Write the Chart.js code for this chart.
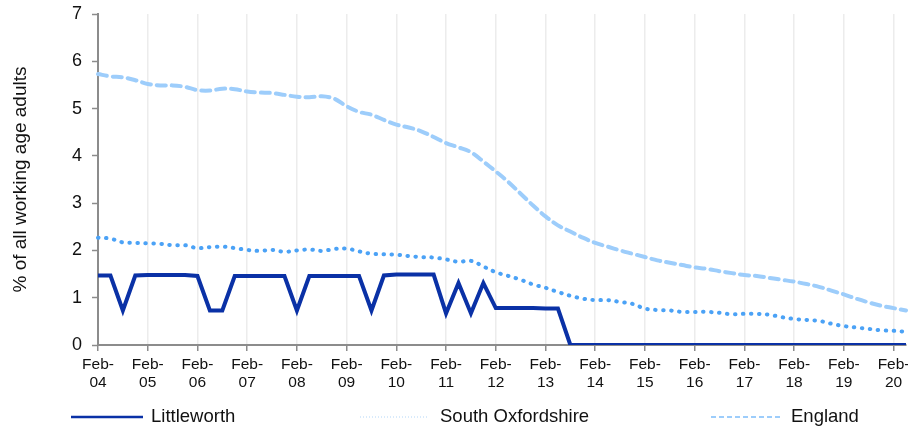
<!DOCTYPE html>
<html>
<head>
<meta charset="utf-8">
<script src="https://cdn.jsdelivr.net/npm/chart.js@4.4.1/dist/chart.umd.min.js"></script>
<style>
  html, body { margin: 0; padding: 0; background: #ffffff; }
  #wrap { position: relative; width: 908px; height: 430px; }
</style>
</head>
<body>
<div id="wrap"><canvas id="c" width="908" height="430"></canvas></div>
<script>
const categories = [
  "Feb-04","May-04","Aug-04","Nov-04","Feb-05","May-05","Aug-05","Nov-05",
  "Feb-06","May-06","Aug-06","Nov-06","Feb-07","May-07","Aug-07","Nov-07",
  "Feb-08","May-08","Aug-08","Nov-08","Feb-09","May-09","Aug-09","Nov-09",
  "Feb-10","May-10","Aug-10","Nov-10","Feb-11","May-11","Aug-11","Nov-11",
  "Feb-12","May-12","Aug-12","Nov-12","Feb-13","May-13","Aug-13","Nov-13",
  "Feb-14","May-14","Aug-14","Nov-14","Feb-15","May-15","Aug-15","Nov-15",
  "Feb-16","May-16","Aug-16","Nov-16","Feb-17","May-17","Aug-17","Nov-17",
  "Feb-18","May-18","Aug-18","Nov-18","Feb-19","May-19","Aug-19","Nov-19",
  "Feb-20","May-20"
];

const seriesNames = ["Littleworth", "South Oxfordshire", "England"];

const littleworth = [
  1.47,1.47,0.73,1.47,1.48,1.48,1.48,1.48,1.46,0.73,
  0.73,1.46,1.46,1.46,1.46,1.46,0.73,1.46,1.46,1.46,
  1.46,1.46,0.73,1.47,1.49,1.49,1.49,1.49,0.67,1.31,
  0.67,1.31,0.78,0.78,0.78,0.78,0.77,0.77,0,0,
  0,0,0,0,0,0,0,0,0,0,
  0,0,0,0,0,0,0,0,0,0,
  0,0,0,0,0,0
];

const southOxfordshire = [
  2.27,2.25,2.17,2.16,2.15,2.14,2.11,2.11,2.05,2.07,
  2.08,2.05,2.01,1.99,2.01,1.97,2.00,2.02,1.99,2.03,
  2.04,1.98,1.93,1.92,1.91,1.88,1.86,1.85,1.81,1.76,
  1.78,1.66,1.54,1.46,1.38,1.28,1.21,1.12,1.04,0.98,
  0.95,0.95,0.91,0.87,0.77,0.74,0.73,0.70,0.70,0.70,
  0.68,0.65,0.66,0.66,0.64,0.59,0.55,0.53,0.51,0.45,
  0.40,0.37,0.34,0.31,0.30,0.28
];

const england = [
  5.73,5.68,5.66,5.60,5.52,5.49,5.49,5.46,5.39,5.38,
  5.42,5.41,5.36,5.34,5.33,5.29,5.25,5.24,5.26,5.21,
  5.05,4.93,4.87,4.76,4.66,4.60,4.52,4.40,4.27,4.18,
  4.08,3.88,3.67,3.45,3.20,2.95,2.72,2.53,2.40,2.27,
  2.16,2.08,2.00,1.93,1.86,1.79,1.74,1.69,1.64,1.61,
  1.56,1.52,1.48,1.46,1.42,1.38,1.34,1.29,1.23,1.15,
  1.07,0.98,0.90,0.83,0.78,0.73
];

const yTicks = [0, 1, 2, 3, 4, 5, 6, 7];
const yTitle = "% of all working age adults";

const FONT = "'Liberation Sans', Arial, sans-serif";
const COL_LW = "#0a31a6";
const COL_SO = "#4ba2f6";
const COL_EN = "#9dcdfb";

const legendPlugin = {
  id: "customLegend",
  afterDraw(chart) {
    const ctx = chart.ctx;
    const y = 417;
    const items = [
      { i: 0, x1: 71, x2: 143, tx: 151, color: COL_LW, width: 2.5, dash: [] },
      { i: 1, x1: 360, x2: 427, tx: 440, color: "#b3d6f7", width: 1, dash: [1, 2] },
      { i: 2, x1: 711, x2: 780, tx: 791, color: COL_EN, width: 2, dash: [5, 3] }
    ];
    ctx.save();
    items.forEach(it => {
      ctx.beginPath();
      ctx.setLineDash(it.dash);
      ctx.lineWidth = it.width;
      ctx.strokeStyle = it.color;
      ctx.lineCap = "butt";
      ctx.moveTo(it.x1, y);
      ctx.lineTo(it.x2, y);
      ctx.stroke();
      ctx.setLineDash([]);
      ctx.fillStyle = "#111";
      ctx.font = "18.5px " + FONT;
      ctx.textBaseline = "middle";
      ctx.textAlign = "left";
      ctx.fillText(chart.data.datasets[it.i].label, it.tx, y);
    });
    ctx.restore();
  }
};

new Chart(document.getElementById("c"), {
  type: "line",
  data: {
    labels: categories,
    datasets: [
      {
        label: seriesNames[0],
        data: littleworth,
        borderColor: COL_LW,
        backgroundColor: COL_LW,
        borderWidth: 4,
        pointRadius: 0,
        tension: 0,
        borderJoinStyle: "miter",
        order: 0
      },
      {
        label: seriesNames[1],
        data: southOxfordshire,
        borderColor: COL_SO,
        backgroundColor: COL_SO,
        borderWidth: 4,
        borderDash: [0.5, 7.5],
        borderCapStyle: "round",
        pointRadius: 0,
        tension: 0.35,
        order: 1
      },
      {
        label: seriesNames[2],
        data: england,
        borderColor: COL_EN,
        backgroundColor: COL_EN,
        borderWidth: 4,
        borderDash: [9, 6],
        borderCapStyle: "round",
        pointRadius: 0,
        tension: 0.35,
        order: 2
      }
    ]
  },
  options: {
    responsive: false,
    animation: false,
    devicePixelRatio: 1,
    layout: { padding: { left: 0, right: 2, top: 14, bottom: 0 } },
    plugins: {
      legend: { display: false },
      tooltip: { enabled: false }
    },
    scales: {
      x: {
        type: "category",
        offset: false,
        afterFit(scale) { scale.height = 85; scale.paddingLeft = 0; scale.paddingRight = 0; },
        grid: {
          display: true,
          drawOnChartArea: true,
          drawTicks: true,
          tickLength: 6,
          color: (c) => (c.index % 4 === 0 ? "#ececec" : "rgba(0,0,0,0)"),
          tickColor: (c) => (c.index % 4 === 0 ? "#8c8c8c" : "rgba(0,0,0,0)"),
          lineWidth: 1.5,
          tickWidth: 1.5
        },
        border: { display: true, color: "#8c8c8c", width: 2 },
        ticks: {
          autoSkip: false,
          maxRotation: 0,
          minRotation: 0,
          padding: 5,
          color: "#111",
          font: { family: FONT, size: 15.5, lineHeight: 1.15 },
          callback: function (val, idx) {
            const l = categories[idx];
            return idx % 4 === 0 ? [l.slice(0, 4), l.slice(4)] : "";
          }
        }
      },
      y: {
        min: yTicks[0],
        max: yTicks[yTicks.length - 1],
        afterFit(scale) { scale.width = 98; scale.paddingTop = 0; scale.paddingBottom = 0; },
        afterBuildTicks(scale) { scale.ticks = yTicks.map(v => ({ value: v })); },
        grid: {
          drawOnChartArea: false,
          drawTicks: true,
          tickLength: 6,
          tickColor: "#8c8c8c",
          tickWidth: 1.5
        },
        border: { display: true, color: "#8c8c8c", width: 2 },
        ticks: {
          stepSize: 1,
          padding: 10,
          color: "#111",
          font: { family: FONT, size: 18 }
        },
        title: {
          display: true,
          text: yTitle,
          color: "#111",
          font: { family: FONT, size: 19 },
          padding: { top: 9, bottom: 4 }
        }
      }
    }
  },
  plugins: [legendPlugin]
});
</script>
</body>
</html>
